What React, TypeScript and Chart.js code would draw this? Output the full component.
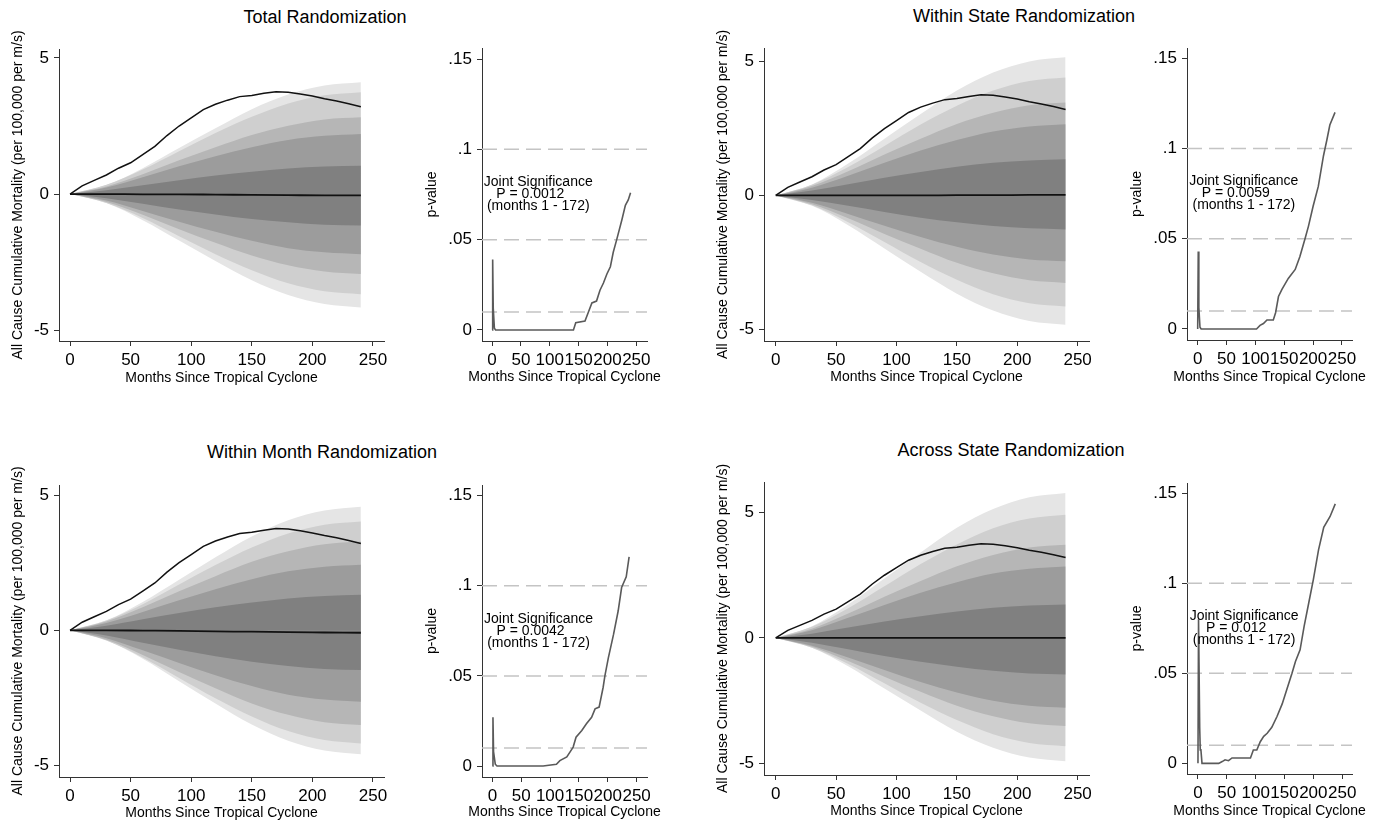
import React, { useEffect, useRef } from "react";
import { Chart, registerables } from "chart.js";

Chart.register(...registerables);

const FONT = "'Liberation Sans', Arial, Helvetica, sans-serif";

// ---------------- shared data ----------------
const fanMonths = [0, 30, 60, 90, 120, 150, 180, 210, 240];
const obsMonths = [0, 10, 20, 30, 40, 50, 60, 70, 80, 90, 100, 110, 120, 130, 140, 150, 160, 170, 180, 190, 200, 210, 220, 230, 240];
const observedMortality = [0, 0.3, 0.5, 0.7, 0.95, 1.15, 1.45, 1.75, 2.15, 2.5, 2.8, 3.1, 3.3, 3.45, 3.58, 3.62, 3.7, 3.76, 3.74, 3.68, 3.6, 3.5, 3.42, 3.32, 3.21];

const monthTicks = [0, 50, 100, 150, 200, 250];
const monthTickLabels = ["0", "50", "100", "150", "200", "250"];
const mortalityTicks = [-5, 0, 5];
const mortalityTickLabels = ["-5", "0", "5"];
const pTicks = [0, 0.05, 0.1, 0.15];
const pTickLabels = ["0", ".05", ".1", ".15"];
const pRefLevels = [0.01, 0.05, 0.1];
const bandColors = ["#808080", "#9c9c9c", "#b6b6b6", "#cfcfcf", "#e5e5e5"]; // inner -> outer

// ---------------- Total Randomization ----------------
const totalU1 = [0, 0.14, 0.32, 0.51, 0.68, 0.82, 0.94, 1.01, 1.04];
const totalU2 = [0, 0.24, 0.62, 1.02, 1.39, 1.72, 1.99, 2.14, 2.21];
const totalU3 = [0, 0.28, 0.73, 1.24, 1.72, 2.17, 2.51, 2.74, 2.82];
const totalU4 = [0, 0.34, 0.9, 1.57, 2.24, 2.84, 3.33, 3.63, 3.74];
const totalU5 = [0, 0.33, 0.95, 1.69, 2.42, 3.12, 3.66, 3.99, 4.11];
const totalL1 = [0, -0.15, -0.36, -0.57, -0.75, -0.92, -1.04, -1.13, -1.16];
const totalL2 = [0, -0.24, -0.62, -1.02, -1.39, -1.72, -1.99, -2.14, -2.21];
const totalL3 = [0, -0.29, -0.76, -1.29, -1.79, -2.26, -2.62, -2.85, -2.94];
const totalL4 = [0, -0.33, -0.88, -1.55, -2.21, -2.8, -3.28, -3.57, -3.68];
const totalL5 = [0, -0.33, -0.96, -1.71, -2.46, -3.17, -3.71, -4.04, -4.17];
const totalMedian = [0, 0, -0.01, -0.01, -0.02, -0.03, -0.04, -0.05, -0.05];
const totalPMonths = [0, 1, 2, 4, 6, 141, 145, 161, 167, 173, 181, 187, 193, 199, 205, 210, 216, 225, 231, 236, 240];
const totalPValues = [0, 0.039, 0.012, 0.001, 0, 0, 0.004, 0.005, 0.01, 0.015, 0.016, 0.022, 0.026, 0.031, 0.035, 0.043, 0.05, 0.061, 0.069, 0.072, 0.076];

// ---------------- Within State Randomization ----------------
const stateU1 = [0, 0.18, 0.42, 0.66, 0.88, 1.07, 1.22, 1.31, 1.35];
const stateU2 = [0, 0.29, 0.74, 1.22, 1.68, 2.07, 2.39, 2.58, 2.66];
const stateU3 = [0, 0.35, 0.9, 1.53, 2.12, 2.67, 3.09, 3.37, 3.47];
const stateU4 = [0, 0.4, 1.06, 1.85, 2.65, 3.35, 3.92, 4.28, 4.41];
const stateU5 = [0, 0.41, 1.19, 2.12, 3.04, 3.92, 4.59, 5.01, 5.16];
const stateL1 = [0, -0.17, -0.39, -0.62, -0.83, -1.0, -1.14, -1.23, -1.27];
const stateL2 = [0, -0.27, -0.69, -1.13, -1.55, -1.92, -2.21, -2.39, -2.46];
const stateL3 = [0, -0.33, -0.85, -1.44, -1.99, -2.52, -2.91, -3.17, -3.27];
const stateL4 = [0, -0.37, -1.0, -1.74, -2.49, -3.15, -3.69, -4.03, -4.15];
const stateL5 = [0, -0.39, -1.11, -1.98, -2.85, -3.67, -4.3, -4.69, -4.83];
const stateMedian = [0, 0, 0, 0, 0, 0.01, 0.01, 0.02, 0.02];
const statePMonths = [0, 1, 2, 4, 6, 102, 108, 114, 120, 131, 135, 140, 146, 157, 169, 177, 186, 192, 200, 209, 218, 224, 229, 238];
const statePValues = [0, 0.043, 0.012, 0.001, 0, 0, 0.002, 0.003, 0.005, 0.005, 0.009, 0.018, 0.022, 0.028, 0.033, 0.04, 0.05, 0.057, 0.068, 0.079, 0.096, 0.105, 0.113, 0.12];

// ---------------- Within Month Randomization ----------------
const monthU1 = [0, 0.17, 0.41, 0.64, 0.85, 1.03, 1.18, 1.27, 1.31];
const monthU2 = [0, 0.27, 0.68, 1.11, 1.52, 1.89, 2.18, 2.35, 2.42];
const monthU3 = [0, 0.33, 0.85, 1.44, 2.0, 2.53, 2.92, 3.18, 3.28];
const monthU4 = [0, 0.36, 0.96, 1.69, 2.41, 3.06, 3.58, 3.9, 4.02];
const monthU5 = [0, 0.37, 1.05, 1.87, 2.7, 3.47, 4.07, 4.43, 4.57];
const monthL1 = [0, -0.19, -0.46, -0.72, -0.96, -1.16, -1.32, -1.43, -1.47];
const monthL2 = [0, -0.29, -0.74, -1.21, -1.66, -2.06, -2.38, -2.56, -2.64];
const monthL3 = [0, -0.35, -0.91, -1.54, -2.14, -2.7, -3.12, -3.4, -3.5];
const monthL4 = [0, -0.38, -1.0, -1.76, -2.51, -3.18, -3.72, -4.05, -4.18];
const monthL5 = [0, -0.37, -1.05, -1.88, -2.7, -3.48, -4.08, -4.44, -4.58];
const monthMedian = [0, 0, -0.01, -0.02, -0.04, -0.05, -0.07, -0.08, -0.09];
const monthPMonths = [0, 1, 2, 5, 8, 88, 111, 117, 129, 135, 140, 145, 155, 163, 172, 178, 185, 192, 195, 201, 210, 218, 224, 232, 237];
const monthPValues = [0, 0.027, 0.008, 0.001, 0, 0, 0.001, 0.003, 0.005, 0.008, 0.0105, 0.016, 0.0197, 0.0234, 0.027, 0.0317, 0.0327, 0.0437, 0.05, 0.06, 0.073, 0.086, 0.099, 0.105, 0.116];

// ---------------- Across State Randomization ----------------
const acrossU1 = [0, 0.17, 0.41, 0.65, 0.86, 1.05, 1.2, 1.29, 1.33];
const acrossU2 = [0, 0.31, 0.8, 1.31, 1.8, 2.22, 2.57, 2.76, 2.85];
const acrossU3 = [0, 0.37, 0.97, 1.64, 2.27, 2.86, 3.31, 3.61, 3.72];
const acrossU4 = [0, 0.44, 1.18, 2.06, 2.95, 3.73, 4.37, 4.76, 4.91];
const acrossU5 = [0, 0.46, 1.33, 2.37, 3.41, 4.39, 5.14, 5.61, 5.78];
const acrossL1 = [0, -0.19, -0.45, -0.72, -0.95, -1.15, -1.31, -1.42, -1.46];
const acrossL2 = [0, -0.31, -0.78, -1.28, -1.76, -2.18, -2.51, -2.71, -2.79];
const acrossL3 = [0, -0.35, -0.92, -1.55, -2.15, -2.71, -3.13, -3.41, -3.52];
const acrossL4 = [0, -0.39, -1.04, -1.81, -2.59, -3.28, -3.84, -4.19, -4.32];
const acrossL5 = [0, -0.39, -1.13, -2.02, -2.9, -3.74, -4.38, -4.77, -4.92];
const acrossMedian = [0, 0, 0, 0, 0, 0, 0, 0, 0];
const acrossPMonths = [0, 1, 3, 4, 5, 7, 36, 42, 47, 53, 59, 91, 96, 102, 108, 114, 120, 128, 137, 146, 154, 163, 169, 177, 184, 192, 200, 209, 218, 229, 238];
const acrossPValues = [0, 0.08, 0.02, 0.0074, 0.008, 0, 0, 0.001, 0.002, 0.0015, 0.003, 0.003, 0.0074, 0.0074, 0.012, 0.015, 0.0167, 0.02, 0.026, 0.033, 0.041, 0.05, 0.0565, 0.063, 0.076, 0.089, 0.102, 0.1185, 0.131, 0.137, 0.144];

const jointTitle = "Joint Significance";
const jointRange = "(months 1 - 172)";
const mainYTitle = "All Cause Cumulative Mortality (per 100,000 per m/s)";
const xTitle = "Months Since Tropical Cyclone";
const pYTitle = "p-value";

// ---------------- layout (page pixels) ----------------
type Box = { x1: number; y1: number; x2: number; y2: number; yTitleX: number; xTitleY: number; xMin: number; xMax: number; yMin: number; yMax: number };

const panels = [
  {
    title: "Total Randomization", titleX: 325, titleTop: 7.5,
    upper: [totalU1, totalU2, totalU3, totalU4, totalU5], lower: [totalL1, totalL2, totalL3, totalL4, totalL5], median: totalMedian,
    pMonths: totalPMonths, pValues: totalPValues, pText: "P = 0.0012",
    mainBox: { x1: 59, y1: 49, x2: 384, y2: 341, yTitleX: 18.3, xTitleY: 378, xMin: -9.1, xMax: 259.1, yMin: -5.4, yMax: 5.33 },
    pBox: { x1: 482, y1: 48, x2: 647, y2: 341, yTitleX: 432, xTitleY: 377.5, xMin: -17.5, xMax: 268.5, yMin: -0.0061, yMax: 0.1561 },
  },
  {
    title: "Within State Randomization", titleX: 1024, titleTop: 7,
    upper: [stateU1, stateU2, stateU3, stateU4, stateU5], lower: [stateL1, stateL2, stateL3, stateL4, stateL5], median: stateMedian,
    pMonths: statePMonths, pValues: statePValues, pText: "P = 0.0059",
    mainBox: { x1: 764, y1: 48, x2: 1089, y2: 341, yTitleX: 723, xTitleY: 377.5, xMin: -9.7, xMax: 259.4, yMin: -5.44, yMax: 5.51 },
    pBox: { x1: 1187, y1: 48, x2: 1352, y2: 340, yTitleX: 1137.5, xTitleY: 377, xMin: -18.5, xMax: 267.4, yMin: -0.0061, yMax: 0.1557 },
  },
  {
    title: "Within Month Randomization", titleX: 322, titleTop: 443,
    upper: [monthU1, monthU2, monthU3, monthU4, monthU5], lower: [monthL1, monthL2, monthL3, monthL4, monthL5], median: monthMedian,
    pMonths: monthPMonths, pValues: monthPValues, pText: "P = 0.0042",
    mainBox: { x1: 59, y1: 485, x2: 384, y2: 777, yTitleX: 18, xTitleY: 813, xMin: -9.1, xMax: 259.1, yMin: -5.42, yMax: 5.37 },
    pBox: { x1: 482, y1: 485, x2: 647, y2: 777, yTitleX: 432, xTitleY: 812, xMin: -18, xMax: 268, yMin: -0.0061, yMax: 0.1559 },
  },
  {
    title: "Across State Randomization", titleX: 1011, titleTop: 441,
    upper: [acrossU1, acrossU2, acrossU3, acrossU4, acrossU5], lower: [acrossL1, acrossL2, acrossL3, acrossL4, acrossL5], median: acrossMedian,
    pMonths: acrossPMonths, pValues: acrossPValues, pText: "P = 0.012",
    mainBox: { x1: 764, y1: 482, x2: 1089, y2: 775, yTitleX: 723, xTitleY: 811, xMin: -9.7, xMax: 259.4, yMin: -5.47, yMax: 6.22 },
    pBox: { x1: 1187, y1: 483, x2: 1352, y2: 774, yTitleX: 1137.5, xTitleY: 811, xMin: -19, xMax: 267, yMin: -0.0059, yMax: 0.1556 },
  },
];

const PAD_TOP = 20;
const PAD_RIGHT = 18;
const LH = 14 * 1.2;

function geometry(b: Box) {
  const left = Math.round(b.yTitleX - LH / 2);
  const top = Math.round(b.y1) - PAD_TOP;
  const right = Math.round(b.x2) + PAD_RIGHT;
  const bottom = Math.round(b.xTitleY + LH / 2);
  return {
    left, top, width: right - left, height: bottom - top,
    yW: Math.round(b.x1) - left, xH: bottom - Math.round(b.y2),
  };
}

function makeAxis(vals: number[], labels: string[], isX: boolean, size: number, min: number, max: number) {
  return {
    type: "linear",
    min, max,
    afterBuildTicks: (s: any) => { s.ticks = vals.map((v) => ({ value: v })); },
    afterFit: (s: any) => { if (isX) s.height = size; else s.width = size; },
    ticks: {
      autoSkip: false, maxRotation: 0, minRotation: 0, padding: isX ? 4 : 5, color: "#000",
      font: { size: 17, family: FONT },
      callback: (v: number) => {
        const i = vals.findIndex((t) => Math.abs(t - v) < 1e-9);
        return i >= 0 ? labels[i] : "";
      },
    },
    grid: { display: true, drawOnChartArea: false, drawTicks: true, tickLength: 5, color: "#333", lineWidth: 1 },
    border: { display: true, color: "#333", width: 1 },
    title: { display: false },
  };
}

// axis titles drawn at their own size (Chart.js would squeeze them to the axis length)
function axisTitlePlugin(b: Box, g: any, xText: string, yText: string) {
  return {
    id: "axisTitles",
    afterDraw(chart: any) {
      const { ctx, chartArea } = chart;
      ctx.save();
      ctx.font = `14px ${FONT}`;
      ctx.fillStyle = "#000";
      ctx.textAlign = "center";
      ctx.textBaseline = "middle";
      ctx.fillText(xText, (chartArea.left + chartArea.right) / 2, b.xTitleY - g.top);
      ctx.translate(b.yTitleX - g.left, (chartArea.top + chartArea.bottom) / 2);
      ctx.rotate(-Math.PI / 2);
      ctx.fillText(yText, 0, 0);
      ctx.restore();
    },
  };
}

function baseOptions(b: Box, g: any, yVals: number[], yLabels: string[]) {
  return {
    responsive: false,
    animation: false,
    events: [],
    layout: { padding: { top: PAD_TOP, right: PAD_RIGHT, left: 0, bottom: 0 } },
    plugins: { legend: { display: false }, tooltip: { enabled: false }, title: { display: false } },
    scales: {
      x: makeAxis(monthTicks, monthTickLabels, true, g.xH, b.xMin, b.xMax),
      y: makeAxis(yVals, yLabels, false, g.yW, b.yMin, b.yMax),
    },
  };
}

function mainConfig(p: any, g: any) {
  const b: Box = p.mainBox;
  const pts = (xs: number[], ys: number[]) => xs.map((x, i) => ({ x, y: ys[i] }));
  const datasets: any[] = [
    { data: pts(obsMonths, observedMortality), borderColor: "#111", borderWidth: 1.5, pointRadius: 0, fill: false, tension: 0 },
    { data: pts(fanMonths, p.median), borderColor: "#111", borderWidth: 1.8, pointRadius: 0, fill: false, cubicInterpolationMode: "monotone" },
  ];
  for (let k = 0; k < 5; k++) {
    for (const arr of [p.upper[k], p.lower[k]]) {
      datasets.push({
        data: pts(fanMonths, arr), borderColor: "rgba(0,0,0,0)", borderWidth: 0, pointRadius: 0,
        backgroundColor: bandColors[k], fill: "origin", cubicInterpolationMode: "monotone",
      });
    }
  }
  return {
    type: "line",
    data: { datasets },
    options: baseOptions(b, g, mortalityTicks, mortalityTickLabels),
    plugins: [axisTitlePlugin(b, g, xTitle, mainYTitle)],
  };
}

function pConfig(p: any, g: any) {
  const b: Box = p.pBox;
  const datasets: any[] = [
    { data: p.pMonths.map((x: number, i: number) => ({ x, y: p.pValues[i] })), borderColor: "#5a5a5a", borderWidth: 1.6, pointRadius: 0, fill: false, tension: 0 },
  ];
  for (const lvl of pRefLevels) {
    datasets.push({
      data: [{ x: b.xMin, y: lvl }, { x: b.xMax, y: lvl }],
      borderColor: "#c4c4c4", borderWidth: 1.5, borderDash: [15, 7], pointRadius: 0, fill: false,
    });
  }
  const textPlugin = {
    id: "jointText",
    afterDatasetsDraw(chart: any) {
      const { ctx, scales } = chart;
      const px = scales.x.getPixelForValue(80);
      const py = scales.y.getPixelForValue(0.075);
      ctx.save();
      ctx.font = `14px ${FONT}`;
      ctx.fillStyle = "#000";
      ctx.textAlign = "center";
      ctx.textBaseline = "middle";
      ctx.fillText(jointTitle, px, py - 12);
      ctx.fillText(p.pText, px - 8, py);
      ctx.fillText(jointRange, px, py + 12);
      ctx.restore();
    },
  };
  return {
    type: "line",
    data: { datasets },
    options: baseOptions(b, g, pTicks, pTickLabels),
    plugins: [textPlugin, axisTitlePlugin(b, g, xTitle, pYTitle)],
  };
}

function ChartCanvas({ box, build, panel }: { box: Box; build: (p: any, g: any) => any; panel: any }) {
  const ref = useRef<HTMLCanvasElement | null>(null);
  const g = geometry(box);
  useEffect(() => {
    if (!ref.current) return;
    const chart = new Chart(ref.current, build(panel, g));
    return () => chart.destroy();
  }, []);
  return (
    <canvas
      ref={ref}
      width={g.width}
      height={g.height}
      style={{ position: "absolute", left: g.left, top: g.top, width: g.width, height: g.height }}
    />
  );
}

export default function App() {
  return (
    <div style={{ position: "absolute", left: 0, top: 0, width: 1382, height: 826, background: "#fff", overflow: "hidden" }}>
      {panels.map((p, i) => (
        <React.Fragment key={i}>
          <div
            style={{
              position: "absolute", left: p.titleX - 200, top: p.titleTop, width: 400, textAlign: "center",
              fontFamily: FONT, fontSize: 18, lineHeight: "18px", color: "#000", whiteSpace: "nowrap",
            }}
          >
            {p.title}
          </div>
          <ChartCanvas box={p.mainBox} build={mainConfig} panel={p} />
          <ChartCanvas box={p.pBox} build={pConfig} panel={p} />
        </React.Fragment>
      ))}
    </div>
  );
}
